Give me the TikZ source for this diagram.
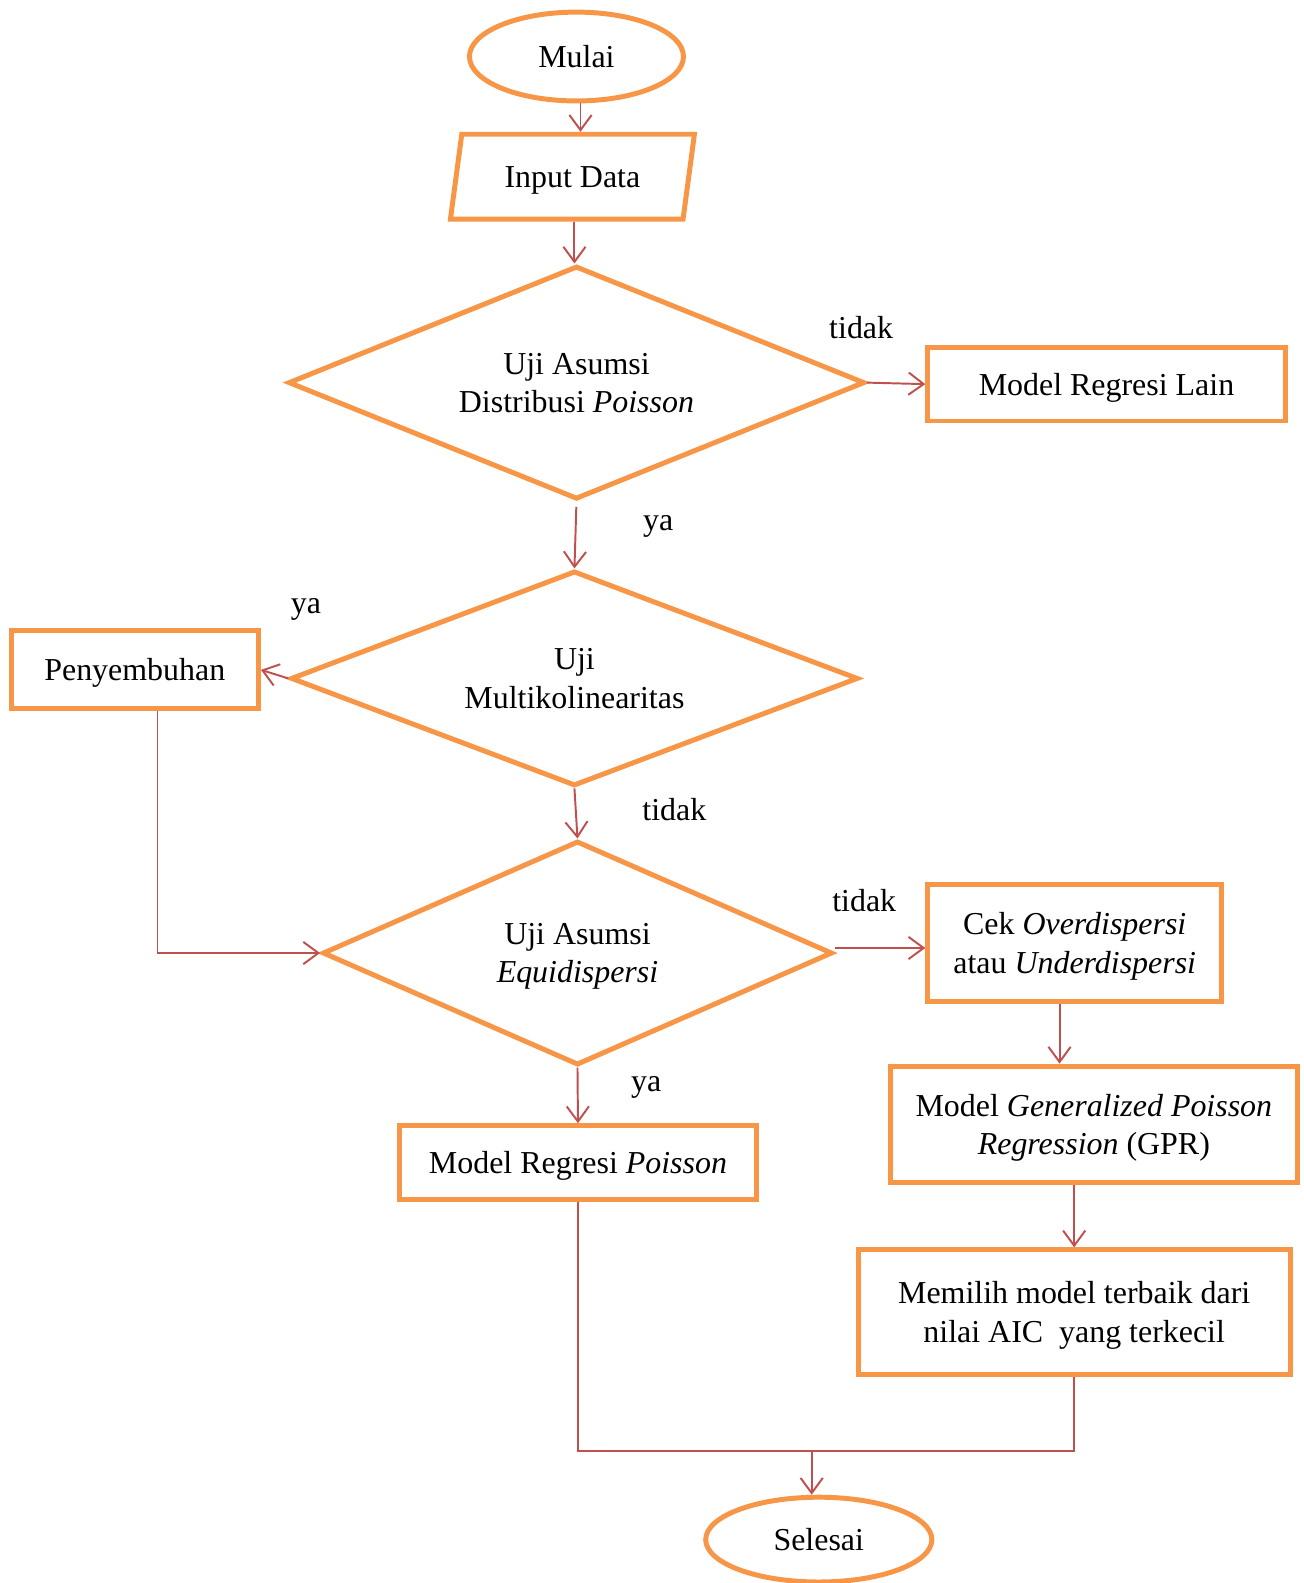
\documentclass[tikz,border=0pt]{standalone}
\usepackage{fontspec}
\setmainfont{Liberation Serif}
\usetikzlibrary{shapes.geometric,arrows.meta}
\definecolor{boxorange}{HTML}{F79646}
\definecolor{arrowred}{HTML}{C0504D}

\begin{document}
\begin{tikzpicture}[font=\fontsize{18}{21.6}\selectfont,
                    terminal/.style={ellipse,draw=boxorange,line width=2.8pt,inner sep=0pt},
                    process/.style={rectangle,draw=boxorange,line width=2.8pt,align=center,inner sep=2pt,text depth=0pt},
                    decision/.style={diamond,draw=boxorange,line width=2.8pt,align=center,inner sep=0pt,aspect=2.5,text depth=0pt},
                    io/.style={trapezium,trapezium left angle=77,trapezium right angle=103,
                               trapezium stretches=true,draw=boxorange,line width=2.8pt,text depth=0pt},
                    arr/.style={draw=arrowred,line width=1.1pt,-{Straight Barb[length=3mm,width=4.4mm]}},
                    link/.style={draw=arrowred,line width=1.1pt},
                    answer/.style={inner sep=0pt}
                   ]
  \useasboundingbox (0,0) rectangle (25.82,-31.36);

  \node[terminal,minimum width=4.24cm,minimum height=1.76cm] (mulai) at (11.42,-1.12) {Mulai};
  \node[io,minimum width=4.84cm,minimum height=1.68cm] (input) at (11.34,-3.50) {Input Data};
  \node[decision,minimum width=11.42cm,minimum height=4.62cm] (poistest) at (11.42,-7.58)
        {Uji Asumsi\\Distribusi \textit{Poisson}};
  \node[process,minimum width=7.08cm,minimum height=1.46cm] (lain) at (21.92,-7.61) {Model Regresi Lain};
  \node[decision,minimum width=11.24cm,minimum height=4.26cm] (multitest) at (11.38,-13.44)
        {Uji\\Multikolinearitas};
  \node[process,minimum width=4.90cm,minimum height=1.54cm] (sembuh) at (2.67,-13.27) {Penyembuhan};
  \node[decision,minimum width=10.10cm,minimum height=4.44cm] (equitest) at (11.44,-18.88)
        {Uji Asumsi\\\textit{Equidispersi}};
  \node[process,minimum width=5.82cm,minimum height=2.32cm] (cek) at (21.29,-18.68)
        {Cek \textit{Overdispersi}\\atau \textit{Underdispersi}};
  \node[process,minimum width=7.06cm,minimum height=1.46cm] (poisson) at (11.45,-23.03)
        {Model Regresi \textit{Poisson}};
  \node[process,minimum width=8.06cm,minimum height=2.30cm] (gpr) at (21.67,-22.27)
        {Model \textit{Generalized Poisson}\\\textit{Regression} (GPR)};
  \node[process,minimum width=8.56cm,minimum height=2.46cm] (aic) at (21.28,-25.99)
        {Memilih model terbaik dari\\nilai AIC\ \ yang terkecil};
  \node[terminal,minimum width=4.48cm,minimum height=1.68cm] (selesai) at (16.22,-30.50) {Selesai};

  \node[answer] (tidak1) at (17.06,-6.48) {tidak};
  \node[answer] (ya1) at (13.04,-10.42) {ya};
  \node[answer] (ya2) at (6.06,-12.08) {ya};
  \node[answer] (tidak2) at (13.36,-16.04) {tidak};
  \node[answer] (tidak3) at (17.12,-17.84) {tidak};
  \node[answer] (ya3) at (12.80,-21.54) {ya};

  \coordinate (gabung) at (16.08,-28.74);

  \draw[arr] ([xshift=0.08cm]mulai.south) -- ([xshift=0.08cm]mulai.south |- input.north);
  \draw[arr] ([xshift=0.04cm]input.south) -- ([xshift=0.04cm]input.south |- poistest.north);
  \draw[arr] (poistest.east) -- (lain.west);
  \draw[arr,shorten <=0.1cm] (poistest.south) -- (multitest.north);
  \draw[arr] (multitest.west) -- (sembuh.east);
  \draw[arr] ([xshift=0.45cm]sembuh.south) |- (equitest.west);
  \draw[arr] (multitest.south) -- (equitest.north);
  \draw[arr] ([yshift=0.1cm]equitest.east) -- ([yshift=0.1cm]equitest.east -| cek.west);
  \draw[arr] (equitest.south) -- (poisson.north);
  \draw[arr] ([xshift=-0.3cm]cek.south) -- ([xshift=-0.3cm]cek.south |- gpr.north);
  \draw[arr] (aic.north |- gpr.south) -- (aic.north);
  \draw[link] (poisson.south) -- (poisson.south |- gabung) -- (aic.south |- gabung) -- (aic.south);
  \draw[arr] (gabung) -- (gabung |- selesai.north);
\end{tikzpicture}
\end{document}
